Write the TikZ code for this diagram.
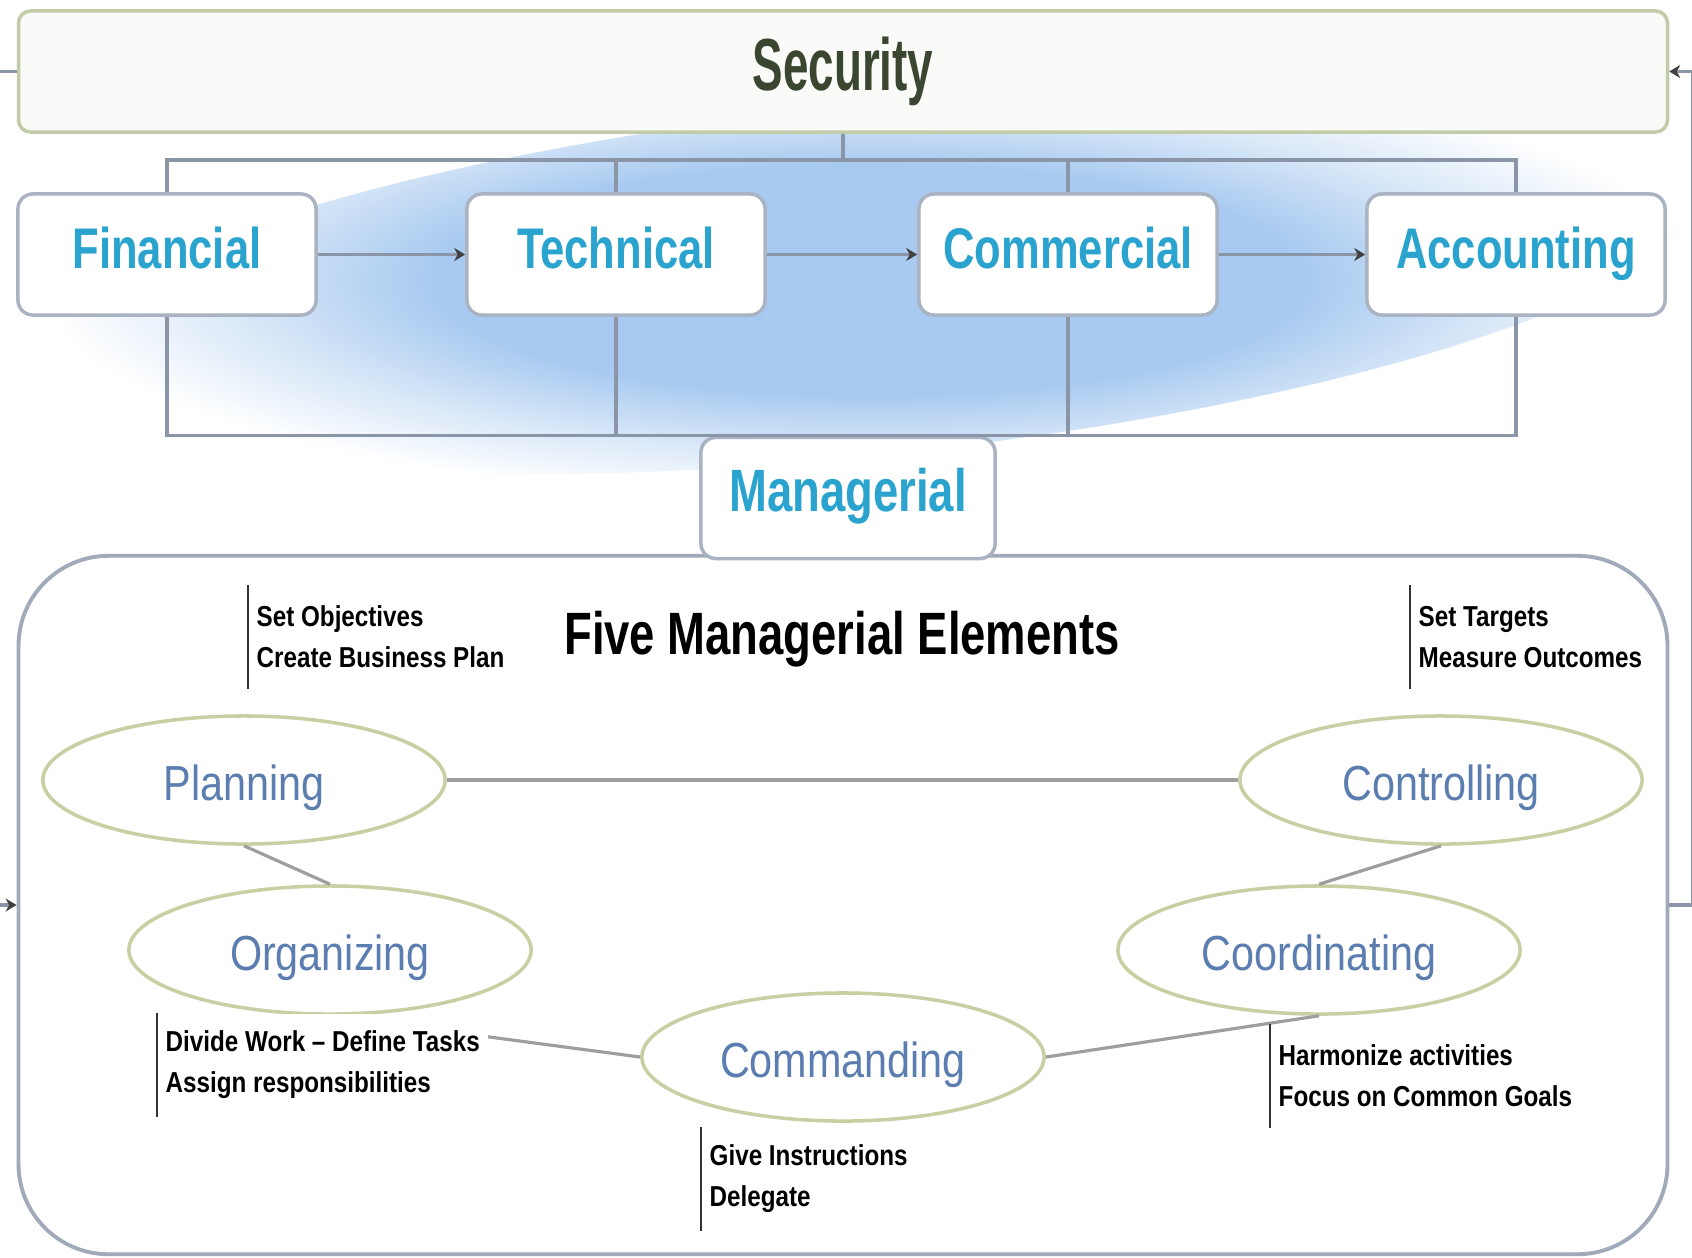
\documentclass[tikz,border=0pt]{standalone}
\usepackage{fontspec}
\setmainfont{Liberation Sans}
\newfontfamily\secfont[FakeStretch=0.62]{Liberation Sans}
\newfontfamily\condfont[FakeStretch=0.76]{Liberation Sans}
\newfontfamily\ovalfont[FakeStretch=0.84]{Liberation Sans}
\usetikzlibrary{arrows.meta,shapes.geometric}

\definecolor{secgreen}{HTML}{3A4630}
\definecolor{secborder}{HTML}{C3CCA8}
\definecolor{tierblue}{HTML}{2AA3CF}
\definecolor{boxborder}{HTML}{A9B3C2}
\definecolor{busgray}{HTML}{8A96A8}
\definecolor{cloudblue}{HTML}{A8CAF0}
\definecolor{cloudpale}{HTML}{D8E7F8}
\definecolor{ovalborder}{HTML}{C8CFA2}
\definecolor{ovaltext}{HTML}{5B7DB0}
\definecolor{framegray}{HTML}{A0AABA}
\pgfdeclareradialshading{cloudglow}{\pgfpoint{0bp}{0bp}}{color(0bp)=(cloudblue); color(13bp)=(cloudblue); color(19bp)=(cloudpale); color(25bp)=(white); color(50bp)=(white)}

\begin{document}
\begin{tikzpicture}[x=0.01cm,y=-0.01cm,
	secbox/.style={draw=secborder,line width=1pt,fill=secborder!8,rounded corners=0.12cm,minimum width=16.48cm,inner sep=0pt,text height=0.79cm,text depth=0.42cm,font=\secfont\bfseries\fontsize{21}{24}\selectfont,text=secgreen},
	tier/.style={draw=boxborder,line width=1pt,fill=white,rounded corners=0.15cm,minimum width=2.98cm,inner sep=0pt,text height=0.74cm,text depth=0.47cm,font=\condfont\bfseries\fontsize{16.3}{19}\selectfont,text=tierblue},
	frame/.style={draw=framegray,line width=1.1pt,rounded corners=0.9cm,minimum width=16.48cm,minimum height=6.98cm},
	bus/.style={draw=busgray,line width=0.9pt},
	link/.style={bus,-{Stealth[length=1.1mm,width=1.3mm,color=black!75]}},
	element/.style={ellipse,draw=ovalborder,line width=1pt,fill=white,minimum width=4.02cm,minimum height=1.28cm,inner sep=0pt,text height=0.42cm,text depth=0.02cm,font=\ovalfont\fontsize{14}{17}\selectfont,text=ovaltext},
	spoke/.style={draw=black!38,line width=0.9pt},
	note/.style={anchor=west,align=left,inner xsep=0.08cm,minimum height=1.02cm,font=\ovalfont\bfseries\fontsize{8.2}{11.7}\selectfont},
	notebar/.style={draw=black!80,line width=0.6pt}]

\useasboundingbox[fill=white] (0,0) rectangle (1692,1257);
% glow behind the functions
\shade[shading=cloudglow,rotate around={6:(870,280)}] (870,280) ellipse (8.3cm and 1.75cm);

\node[secbox] (sec) at (843,71.5) {Security};
\node[tier] (fin) at (167,254.5) {Financial};
\node[tier] (tec) at (616,254.5) {Technical};
\node[tier] (com) at (1068,254.5) {Commercial};
\node[tier] (acc) at (1516,254.5) {Accounting};
\node[frame] (frame) at (843,905) {};
\node[tier,minimum width=2.94cm,font=\condfont\bfseries\fontsize{17}{20}\selectfont] (mgr) at (848,498) {Managerial};

\coordinate (top) at (843,160);
\draw[bus] (sec.south) -- (top);
\draw[bus] (fin.north) |- (top) -| (acc.north);
\draw[bus] (tec.north) -- (tec.north |- top);
\draw[bus] (com.north) -- (com.north |- top);
\draw[bus] (fin.south) |- (mgr.north) -| (acc.south);
\draw[bus] (tec.south) -- (tec.south |- mgr.north);
\draw[bus] (com.south) -- (com.south |- mgr.north);
\draw[link] (fin) -- (tec);
\draw[link] (tec) -- (com);
\draw[link] (com) -- (acc);
\draw[link] (sec.west) -- ++(-40,0) |- (frame.west);
\draw[link] (frame.east) -- ++(23,0) |- (sec.east);

\node[font=\condfont\bfseries\fontsize{17}{20}\selectfont] (title) at (842,639) {Five Managerial Elements};

\node[element] (plan) at (244,780) {Planning};
\node[element] (ctrl) at (1441,780) {Controlling};
\node[element] (org) at (330,950) {Organizing};
\node[element] (coord) at (1319,950) {Coordinating};
\node[element] (cmd) at (843,1057) {Commanding};
\draw[spoke] (plan) -- (ctrl);
\draw[spoke] (plan.south) -- (org.north);
\draw[spoke] (ctrl.south) -- (coord.north);
\draw[spoke] (org.south) -- (cmd.west);
\draw[spoke] (cmd.east) -- (coord.south);

\node[note] (obj) at (248,637) {Set Objectives\\Create Business Plan};
\node[note] (tgt) at (1410,637) {Set Targets\\Measure Outcomes};
\node[note,fill=white] (work) at (157,1065) {Divide Work \textendash{} Define Tasks\\Assign responsibilities};
\node[note] (instr) at (701,1179) {Give Instructions\\Delegate};
\node[note] (harm) at (1270,1076) {Harmonize activities\\Focus on Common Goals};
\foreach \n in {obj,tgt,work,instr,harm}
  \draw[notebar] (\n.north west) -- (\n.south west);

\end{tikzpicture}
\end{document}
